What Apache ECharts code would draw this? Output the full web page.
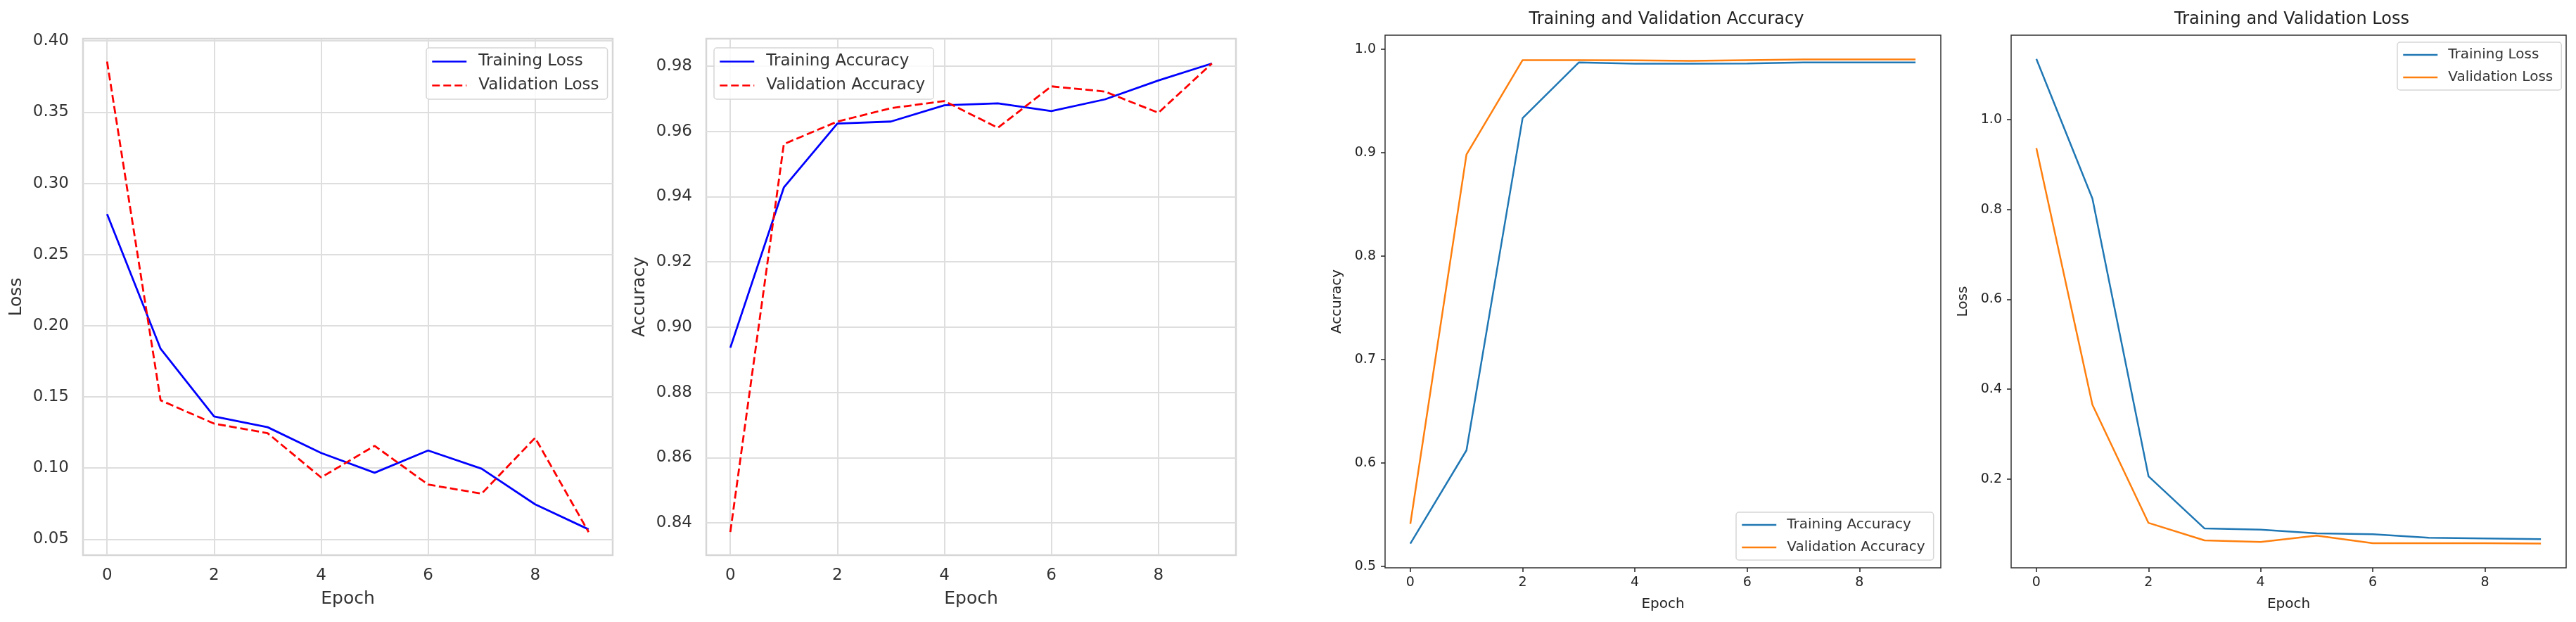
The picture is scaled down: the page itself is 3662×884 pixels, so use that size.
<!DOCTYPE html>
<html>
<head>
<meta charset="UTF-8">
<title>Training curves</title>
<script src="https://cdn.jsdelivr.net/npm/echarts@6/dist/echarts.min.js"></script>
<style>
    html, body { margin: 0; padding: 0; background: #fff; }
    #chart { width: 3662px; height: 884px; }
</style>
</head>
<body>
<div id="chart"></div>
<script type="text/javascript">
    var epochs = [0, 1, 2, 3, 4, 5, 6, 7, 8, 9];

    // panel 1 / 2 (seaborn style run)
    var trainLossA = [0.2784, 0.1838, 0.1362, 0.1287, 0.1106, 0.0967, 0.1123, 0.0995, 0.0745, 0.0569];
    var valLossA = [0.3855, 0.1476, 0.1312, 0.1245, 0.0934, 0.1156, 0.0884, 0.0820, 0.1212, 0.0550];
    var trainAccA = [0.8937, 0.9428, 0.9624, 0.9630, 0.9680, 0.9686, 0.9662, 0.9698, 0.9756, 0.9808];
    var valAccA = [0.8372, 0.9561, 0.9630, 0.9671, 0.9693, 0.9611, 0.9738, 0.9722, 0.9657, 0.9808];

    // panel 3 / 4 (plain matplotlib run)
    var trainAccB = [0.5219, 0.6121, 0.9332, 0.9870, 0.9858, 0.9858, 0.9860, 0.9870, 0.9870, 0.9870];
    var valAccB = [0.5410, 0.8980, 0.9893, 0.9893, 0.9890, 0.9885, 0.9893, 0.9900, 0.9900, 0.9900];
    var trainLossB = [1.135, 0.824, 0.206, 0.0896, 0.0870, 0.0788, 0.0770, 0.0690, 0.0675, 0.0660];
    var valLossB = [0.9364, 0.365, 0.102, 0.0631, 0.0596, 0.0737, 0.0570, 0.0570, 0.0570, 0.0560];

    // tick labels
    var epochTicks = [0, 2, 4, 6, 8];
    var lossTicksA = [0.05, 0.10, 0.15, 0.20, 0.25, 0.30, 0.35, 0.40];
    var accTicksA = [0.84, 0.86, 0.88, 0.90, 0.92, 0.94, 0.96, 0.98];
    var accTicksB = [0.5, 0.6, 0.7, 0.8, 0.9, 1.0];
    var lossTicksB = [0.2, 0.4, 0.6, 0.8, 1.0];

    var FONT = 'DejaVu Sans';

    function pairs(ys) {
        return epochs.map(function (e, i) { return [e, ys[i]]; });
    }

    // seaborn whitegrid look
    function axisA(gi, isX, name, min, max, ticks, digits, gap) {
        return {
            type: 'value', gridIndex: gi, min: min, max: max,
            name: name, nameLocation: 'middle', nameGap: gap,
            nameRotate: isX ? 0 : 90,
            nameTextStyle: {fontSize: 25, color: '#333', fontFamily: FONT},
            axisLine: {show: false, onZero: false},
            axisTick: {show: false, customValues: ticks},
            axisLabel: {
                customValues: ticks, fontSize: 23, color: '#333', fontFamily: FONT,
                margin: isX ? 18 : 20,
                formatter: function (v) { return v.toFixed(digits); }
            },
            splitLine: {show: true, lineStyle: {color: '#dedede', width: 2}}
        };
    }

    // plain matplotlib look
    function axisB(gi, isX, name, min, max, ticks, digits, gap) {
        return {
            type: 'value', gridIndex: gi, min: min, max: max,
            name: name, nameLocation: 'middle', nameGap: gap,
            nameRotate: isX ? 0 : 90,
            nameTextStyle: {fontSize: 20, color: '#222', fontFamily: FONT},
            axisLine: {show: false, onZero: false},
            axisTick: {show: true, length: 6, customValues: ticks, lineStyle: {color: '#222', width: 1.5}},
            axisLabel: {
                customValues: ticks, fontSize: 19, color: '#222', fontFamily: FONT,
                margin: isX ? 12 : 13,
                formatter: function (v) { return v.toFixed(digits); }
            },
            splitLine: {show: false}
        };
    }

    function lineSeries(name, ys, gi, color, dashed, width) {
        return {
            name: name, type: 'line', xAxisIndex: gi, yAxisIndex: gi,
            data: pairs(ys), symbol: 'none', showSymbol: false,
            lineStyle: {color: color, width: width, type: dashed ? [11, 5] : 'solid'},
            itemStyle: {color: color}
        };
    }

    // the symbol of the legend icon is hidden, only the line stays
    function legendItem(name, color, dashed) {
        return {
            name: name,
            lineStyle: {color: color, width: 2.5, type: dashed ? [11, 5] : 'solid'},
            itemStyle: {color: color, opacity: 0}
        };
    }

    var legendBase = {
        orient: 'vertical', itemWidth: 49, itemHeight: 14,
        padding: [8, 12, 8, 7], backgroundColor: 'rgba(255,255,255,0.85)',
        borderColor: '#d6d6d6', borderWidth: 1.5, borderRadius: 4,
        selectedMode: false
    };

    function legend(pos, items, fontSize, pad, gap) {
        var l = Object.assign({}, legendBase, pos);
        l.data = items;
        l.itemGap = gap;
        l.textStyle = {fontSize: fontSize, color: '#333', fontFamily: FONT, padding: [0, 0, 0, pad]};
        return l;
    }

    var chart = echarts.init(document.getElementById('chart'));

    chart.setOption({
        animation: false,
        backgroundColor: '#fff',
        textStyle: {fontFamily: FONT},
        title: [
            {text: 'Training and Validation Accuracy', left: 2364, top: 11, textAlign: 'center',
                textStyle: {fontSize: 24, fontWeight: 'normal', color: '#222', fontFamily: FONT}},
            {text: 'Training and Validation Loss', left: 3253, top: 11, textAlign: 'center',
                textStyle: {fontSize: 24, fontWeight: 'normal', color: '#222', fontFamily: FONT}}
        ],
        grid: [
            {left: 118, top: 55, width: 753, height: 734, show: true, borderColor: '#d6d6d6', borderWidth: 2.5, containLabel: false},
            {left: 1004, top: 55, width: 753, height: 734, show: true, borderColor: '#d6d6d6', borderWidth: 2.5, containLabel: false},
            {left: 1969, top: 50, width: 790, height: 757, show: true, borderColor: '#333', borderWidth: 1.5, containLabel: false},
            {left: 2859, top: 50, width: 789, height: 757, show: true, borderColor: '#333', borderWidth: 1.5, containLabel: false}
        ],
        xAxis: [
            axisA(0, true, 'Epoch', -0.45, 9.45, epochTicks, 0, 50),
            axisA(1, true, 'Epoch', -0.45, 9.45, epochTicks, 0, 50),
            axisB(2, true, 'Epoch', -0.45, 9.45, epochTicks, 0, 42),
            axisB(3, true, 'Epoch', -0.45, 9.45, epochTicks, 0, 42)
        ],
        yAxis: [
            axisA(0, false, 'Loss', 0.0388, 0.4016, lossTicksA, 2, 82),
            axisA(1, false, 'Accuracy', 0.8301, 0.9884, accTicksA, 2, 82),
            axisB(2, false, 'Accuracy', 0.4985, 1.0134, accTicksB, 1, 58),
            axisB(3, false, 'Loss', 0.002, 1.188, lossTicksB, 1, 58)
        ],
        legend: [
            legend({left: 606, top: 68}, [
                legendItem('Training Loss', '#0000ff', false),
                legendItem('Validation Loss', '#ff0000', true)
            ], 23, 12, 11),
            legend({left: 1015, top: 68}, [
                legendItem('Training Accuracy', '#0000ff', false),
                legendItem('Validation Accuracy', '#ff0000', true)
            ], 23, 12, 11),
            legend({left: 2468, top: 728}, [
                legendItem('Training Accuracy', '#1f77b4', false),
                legendItem('Validation Accuracy', '#ff7f0e', false)
            ], 20, 10, 12),
            legend({left: 3408, top: 60}, [
                legendItem('Training Loss', '#1f77b4', false),
                legendItem('Validation Loss', '#ff7f0e', false)
            ], 20, 10, 12)
        ],
        series: [
            lineSeries('Training Loss', trainLossA, 0, '#0000ff', false, 2.8),
            lineSeries('Validation Loss', valLossA, 0, '#ff0000', true, 2.8),
            lineSeries('Training Accuracy', trainAccA, 1, '#0000ff', false, 2.8),
            lineSeries('Validation Accuracy', valAccA, 1, '#ff0000', true, 2.8),
            lineSeries('Training Accuracy', trainAccB, 2, '#1f77b4', false, 2.5),
            lineSeries('Validation Accuracy', valAccB, 2, '#ff7f0e', false, 2.5),
            lineSeries('Training Loss', trainLossB, 3, '#1f77b4', false, 2.5),
            lineSeries('Validation Loss', valLossB, 3, '#ff7f0e', false, 2.5)
        ]
    });
</script>
</body>
</html>
